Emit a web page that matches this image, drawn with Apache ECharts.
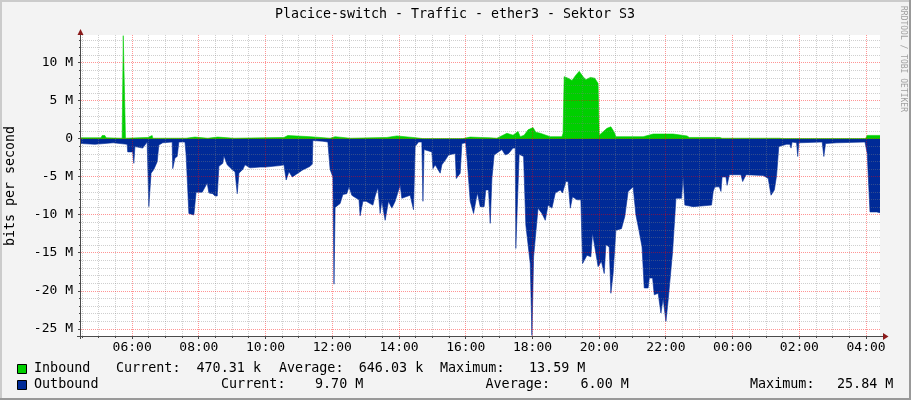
<!DOCTYPE html>
<html><head><meta charset="utf-8">
<script src="https://cdn.jsdelivr.net/npm/echarts@6/dist/echarts.min.js"></script>
<style>html,body{margin:0;padding:0;background:#F3F3F3}#c{width:911px;height:400px}</style>
</head><body><div id="c"></div>
<script>
// ---- data (Mbit/s) ----
const inbound = [
 ['04:28',0.15],['05:04',0.15],['05:06',0.45],['05:11',0.45],['05:13',0.15],['05:42',0.1],['05:44',13.59],['05:47',13.59],['05:48',0.1],
 ['06:28',0.2],['06:30',0.45],['06:36',0.45],['06:37',0.1],['07:37',0.1],['07:39',0.25],['07:53',0.25],['07:55',0.1],['08:16',0.1],
 ['08:18',0.25],['08:34',0.25],['08:36',0.1],['09:03',0.1],['09:05',0.2],['10:33',0.2],['10:35',0.45],['10:40',0.45],['10:42',0.3],
 ['11:20',0.3],['11:22',0.1],['11:56',0.1],['11:58',0.3],['12:05',0.3],['12:07',0.1],['12:32',0.1],['12:34',0.2],['13:38',0.2],
 ['13:40',0.4],['13:56',0.4],['13:58',0.2],['14:25',0.2],['14:27',0.1],['14:43',0.05],['15:55',0.05],['16:08',0.25],['16:26',0.2],
 ['16:44',0.15],['16:56',0.1],['17:07',0.5],['17:14',0.75],['17:25',0.5],['17:34',1.0],['17:38',0.3],['17:45',0.5],['17:52',1.2],
 ['18:01',1.5],['18:06',0.9],['18:14',0.75],['18:24',0.5],['18:32',0.3],['18:53',0.3],['18:55',0.75],['18:57',8.2],['19:00',8.2],
 ['19:04',8.0],['19:11',7.7],['19:18',8.4],['19:24',8.9],['19:27',8.9],['19:31',8.2],['19:36',7.8],['19:44',8.1],['19:52',8.0],
 ['19:58',7.3],['20:00',0.5],['20:01',0.75],['20:14',1.4],['20:21',1.6],['20:27',0.9],['20:30',0.3],['21:19',0.3],['21:22',0.5],
 ['21:37',0.65],['22:13',0.65],['22:16',0.4],['22:38',0.4],['22:42',0.2],['23:37',0.2],['23:41',0.1],['01:25',0.1],['01:29',0.05],
 ['03:59',0.05],['04:02',0.47],['04:25',0.47]
];
const outbound = [
 ['04:28',0.6],['04:53',0.7],['05:26',0.5],['05:51',0.7],['05:52',1.7],['06:01',1.7],['06:03',3.2],['06:05',1.0],['06:19',1.2],
 ['06:27',0.4],['06:30',8.9],['06:34',4.5],['06:39',4.0],['06:45',3.0],['06:48',0.8],['06:55',0.5],['07:12',0.4],['07:13',3.9],
 ['07:17',2.5],['07:21',2.3],['07:24',0.4],['07:35',0.4],['07:37',2.0],['07:42',9.8],['07:51',10.0],['07:55',7.0],['08:06',7.0],
 ['08:09',6.8],['08:15',5.8],['08:18',7.1],['08:25',7.2],['08:29',7.5],['08:33',7.5],['08:36',3.6],['08:43',3.2],['08:45',2.2],
 ['08:51',3.4],['09:01',4.1],['09:05',4.3],['09:09',7.2],['09:12',4.5],['09:19',4.0],['09:23',3.4],['09:32',3.8],['09:50',3.7],
 ['09:59',3.7],['10:26',3.5],['10:33',3.4],['10:37',5.4],['10:42',4.3],['10:48',5.0],['10:56',4.6],['11:06',4.1],['11:20',3.6],
 ['11:24',3.3],['11:25',0.2],['11:43',0.3],['11:52',0.4],['11:56',4.0],['12:01',5.0],['12:03',19.1],['12:05',9.0],['12:14',8.5],
 ['12:19',7.3],['12:26',7.2],['12:30',6.3],['12:35',7.4],['12:39',7.6],['12:48',8.0],['12:50',10.1],['12:55',8.2],['13:01',8.2],
 ['13:08',8.5],['13:13',8.7],['13:17',7.5],['13:22',6.4],['13:26',9.8],['13:29',8.2],['13:35',10.7],['13:41',8.2],['13:47',9.1],
 ['13:53',8.2],['14:02',6.1],['14:05',7.8],['14:20',7.4],['14:26',9.3],['14:29',1.0],['14:35',0.4],['14:41',0.4],['14:43',8.2],
 ['14:45',1.4],['14:59',1.7],['15:01',3.9],['15:05',3.4],['15:14',4.5],['15:17',3.4],['15:23',2.8],['15:29',2.1],['15:41',1.9],
 ['15:43',5.2],['15:50',4.5],['15:53',0.6],['16:00',0.5],['16:03',3.2],['16:08',8.2],['16:14',9.8],['16:18',8.2],['16:21',7.1],
 ['16:26',8.9],['16:33',8.9],['16:36',6.7],['16:41',6.7],['16:44',11.1],['16:47',5.2],['16:51',2.1],['17:05',1.4],['17:11',2.1],
 ['17:17',1.9],['17:25',1.2],['17:29',1.2],['17:30',14.4],['17:33',14.4],['17:36',2.0],['17:44',2.3],['17:48',11.3],['17:56',16.4],
 ['17:59',25.84],['18:02',15.5],['18:10',9.1],['18:17',9.8],['18:23',10.7],['18:28',8.7],['18:35',9.1],['18:41',7.1],['18:50',6.7],
 ['18:54',7.1],['19:00',5.6],['19:04',5.6],['19:08',9.1],['19:12',7.6],['19:20',8.0],['19:27',8.0],['19:30',16.4],['19:38',15.3],
 ['19:45',15.5],['19:48',12.4],['19:53',14.6],['19:58',16.8],['20:04',16.1],['20:09',17.7],['20:12',13.9],['20:18',14.2],['20:21',20.3],
 ['20:25',17.7],['20:30',12.0],['20:40',11.8],['20:46',10.2],['20:52',6.9],['21:01',6.3],['21:06',10.0],['21:12',12.2],['21:17',14.2],
 ['21:21',19.6],['21:28',19.6],['21:30',18.3],['21:36',18.3],['21:39',20.5],['21:46',20.3],['21:51',22.9],['21:55',21.0],['22:00',24.0],
 ['22:04',21.2],['22:07',21.2],['22:12',14.8],['22:18',7.8],['22:28',7.8],['22:31',5.0],['22:34',8.7],['22:49',8.9],['23:22',8.7],
 ['23:25',6.9],['23:28',6.3],['23:36',6.3],['23:39',6.9],['23:41',5.0],['23:48',5.0],['23:50',6.1],['23:54',4.7],['00:15',4.7],
 ['00:18',5.6],['00:24',4.7],['00:55',4.8],['01:04',5.2],['01:09',7.4],['01:15',6.7],['01:19',4.8],['01:23',1.0],['01:37',0.7],
 ['01:43',0.7],['01:45',1.2],['01:47',0.4],['01:55',0.5],['01:57',2.3],['01:59',0.5],['02:41',0.4],['02:44',2.3],['02:47',0.6],
 ['03:07',0.5],['03:58',0.4],['04:02',1.9],['04:07',9.6],['04:19',9.6],['04:25',9.7]
];
const xTickLabels = ['06:00','08:00','10:00','12:00','14:00','16:00','18:00','20:00','22:00','00:00','02:00','04:00'];
const yTickValues = [10,5,0,-5,-10,-15,-20,-25];
const yTickLabels = ['10 M','5 M','0','-5 M','-10 M','-15 M','-20 M','-25 M'];
const legendInbound = ['Inbound','Current:','470.31 k','Average:','646.03 k','Maximum:','13.59 M'];
const legendOutbound = ['Outbound','Current:','9.70 M','Average:','6.00 M','Maximum:','25.84 M'];
const titleText = 'Placice-switch - Traffic - ether3 - Sektor S3';

// ---- helpers ----
function toSeries(list, sign) {
  let prev = -1, add = 0;
  return list.map(([t, v]) => {
    const [h, m] = t.split(':').map(Number);
    let x = h + m / 60;
    if (x + add < prev) add += 24;
    x += add; prev = x;
    return [x, sign * v];
  });
}
const X_MIN = 4 + 28 / 60, X_MAX = 28 + 25 / 60;
const Y_MIN = -25.92, Y_MAX = 13.68;
const FONT = 'DejaVu Sans Mono';
const MINOR = 'rgba(128,128,128,0.38)';
const MAJOR = 'rgba(255,0,0,0.42)';
const AXIS = '#4a4a4a';
const ARROW = '#8b1a1a';

function xLabel(v) {
  const k = (v - 6) / 2;
  if (Math.abs(k - Math.round(k)) > 1e-6) return '';
  return xTickLabels[Math.round(k)] || '';
}
function yLabel(v) {
  if (Math.abs(v - Math.round(v)) > 1e-6) return '';
  const i = yTickValues.indexOf(Math.round(v));
  return i < 0 ? '' : yTickLabels[i];
}

const chart = echarts.init(document.getElementById('c'), null, {renderer: 'canvas'});
chart.setOption({
  animation:false,
  backgroundColor:'#F3F3F3',
  grid:{left:81, right:31, top:35, bottom:64, show:true, backgroundColor:'#FFFFFF', borderWidth:0, containLabel:false},
  xAxis:[{type:'value', position:'bottom', min:X_MIN, max:X_MAX, minInterval:2, maxInterval:2, splitNumber:12,
     axisLine:{show:false}, axisTick:{show:false}, splitLine:{show:false},
     axisLabel:{show:true, formatter:xLabel, fontFamily:FONT, fontSize:13, color:'#000', margin:5, showMinLabel:false, showMaxLabel:false}}],
  yAxis:[{type:'value', position:'left', min:Y_MIN, max:Y_MAX, minInterval:5, maxInterval:5, splitNumber:8,
     axisLine:{show:false}, axisTick:{show:false}, splitLine:{show:false},
     axisLabel:{show:true, formatter:yLabel, fontFamily:FONT, fontSize:13, color:'#000', margin:8, showMinLabel:false, showMaxLabel:false}}],
  series:[
    {type:'line', name:'Inbound', data:toSeries(inbound, 1), symbol:'none', showSymbol:false,
     lineStyle:{width:0.6, color:'#00CF00'}, areaStyle:{color:'#00CF00', opacity:1, origin:0}, z:2, silent:true},
    {type:'line', name:'Outbound', data:toSeries(outbound, -1), symbol:'none', showSymbol:false,
     lineStyle:{width:0.6, color:'#002A97'}, areaStyle:{color:'#002A97', opacity:1, origin:0}, z:2, silent:true}
  ]
});

// ---- grid, ticks and decoration (grid positions from the chart's own scales, snapped to pixels) ----
const PL = 81, PR = 880, PT = 35, PB = 336;
const snap = p => Math.floor(p) + 0.5;
const px = v => snap(chart.convertToPixel({xAxisIndex:0}, v));
const py = v => snap(chart.convertToPixel({yAxisIndex:0}, v));
const graphics = [];
for (let h = Math.ceil(X_MIN * 2) / 2; h <= X_MAX + 1e-9; h += 0.5) {
  const major = Math.abs(h / 2 - Math.round(h / 2)) < 1e-9;
  const x = px(h);
  graphics.push({type:'line', shape:{x1:x,y1:PT,x2:x,y2:PB}, style:{stroke:major?MAJOR:MINOR, lineWidth:1, lineDash:[1,1]}, z:20, silent:true});
  graphics.push({type:'line', shape:{x1:x,y1:PB,x2:x,y2:PB+(major?3:2)}, style:{stroke:AXIS, lineWidth:1}, z:21, silent:true});
}
for (let m = Math.ceil(Y_MIN); m <= Y_MAX + 1e-9; m += 1) {
  const major = m % 5 === 0;
  const y = py(m);
  graphics.push({type:'line', shape:{x1:PL,y1:y,x2:PR,y2:y}, style:{stroke:major?MAJOR:MINOR, lineWidth:1, lineDash:[1,1]}, z:20, silent:true});
  graphics.push({type:'line', shape:{x1:PL-(major?3:2),y1:y,x2:PL,y2:y}, style:{stroke:AXIS, lineWidth:1}, z:21, silent:true});
}
graphics.push(
  {type:'rect', shape:{x:0,y:0,width:911,height:2}, style:{fill:'#CBCBCB'}, silent:true},
  {type:'rect', shape:{x:0,y:0,width:2,height:400}, style:{fill:'#CBCBCB'}, silent:true},
  {type:'rect', shape:{x:909,y:0,width:2,height:400}, style:{fill:'#999999'}, silent:true},
  {type:'rect', shape:{x:0,y:398,width:911,height:2}, style:{fill:'#999999'}, silent:true},
  {type:'text', x:455, y:15, style:{text:titleText, font:'13.3px "'+FONT+'"', fill:'#000', textAlign:'center', textVerticalAlign:'middle'}},
  {type:'text', x:11, y:186, rotation:Math.PI/2, style:{text:'bits per second', font:'13.3px "'+FONT+'"', fill:'#000', textAlign:'center', textVerticalAlign:'middle'}},
  {type:'text', x:903, y:6, rotation:-Math.PI/2, style:{text:'RRDTOOL / TOBI OETIKER', font:'8px "'+FONT+'"', fill:'#A0A0A0', textAlign:'left', textVerticalAlign:'middle'}},
  {type:'line', shape:{x1:77,y1:336.5,x2:884,y2:336.5}, style:{stroke:AXIS,lineWidth:1}, z:30, silent:true},
  {type:'line', shape:{x1:80.5,y1:339,x2:80.5,y2:33}, style:{stroke:AXIS,lineWidth:1}, z:30, silent:true},
  {type:'polygon', shape:{points:[[883,333],[888.5,336.5],[883,340]]}, style:{fill:ARROW}, z:31, silent:true},
  {type:'polygon', shape:{points:[[77.5,35],[80.5,29],[83.5,35]]}, style:{fill:ARROW}, z:31, silent:true},
  {type:'rect', shape:{x:17.5,y:364.5,width:9,height:9}, style:{fill:'#00CF00',stroke:'#000',lineWidth:1}},
  {type:'rect', shape:{x:17.5,y:380.5,width:9,height:9}, style:{fill:'#002A97',stroke:'#000',lineWidth:1}}
);
const legX1 = [34,116,196.5,279,358.7,440,529];
const legX2 = [34,221,315,485.5,580.5,750,837];
legendInbound.forEach((t,i)=>graphics.push({type:'text', x:legX1[i], y:369, style:{text:t, font:'13.4px "'+FONT+'"', fill:'#000', textVerticalAlign:'middle'}}));
legendOutbound.forEach((t,i)=>graphics.push({type:'text', x:legX2[i], y:385, style:{text:t, font:'13.4px "'+FONT+'"', fill:'#000', textVerticalAlign:'middle'}}));
chart.setOption({graphic: graphics});
</script></body></html>
